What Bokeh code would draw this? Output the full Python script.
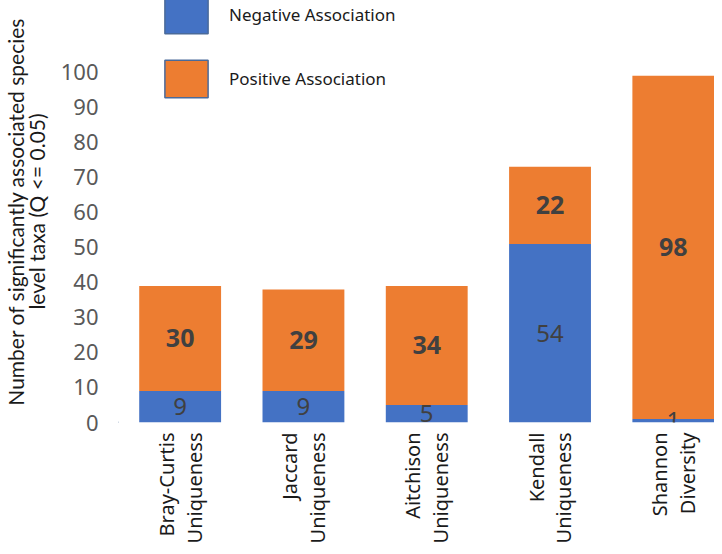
import math
from bokeh.plotting import figure
from bokeh.models import (ColumnDataSource, Range1d, FixedTicker, Legend, LegendItem, LabelSet)
from bokeh.core.properties import value
from bokeh.embed import file_html
from bokeh.resources import INLINE

# ---- data ----
categories = ["Bray-Curtis\nUniqueness", "Jaccard\nUniqueness", "Aitchison\nUniqueness",
              "Kendall\nUniqueness", "Shannon\nDiversity"]
negative = [9, 9, 5, 51, 1]
positive = [30, 29, 34, 22, 98]
negative_labels = ["9", "9", "5", "54", "1"]
positive_labels = ["30", "29", "34", "22", "98"]
y_ticks = [0, 10, 20, 30, 40, 50, 60, 70, 80, 90, 100]

BLUE = "#4472C4"
ORANGE = "#ED7D31"
FONT = "Noto Sans"
TITLE_FONT = "Lato"

xs = list(range(len(categories)))
src = ColumnDataSource(dict(
    x=xs, neg=negative, pos=positive,
    neg_mid=[n / 2 for n in negative],
    pos_mid=[n + p / 2 for n, p in zip(negative, positive)],
    neg_lab=negative_labels, pos_lab=positive_labels,
))

p = figure(width=714, height=546, output_backend="svg", toolbar_location=None,
           title=None, x_range=Range1d(-0.5, 4.334), y_range=Range1d(0, 120.5),
           min_border_left=117, min_border_right=0, min_border_top=0, min_border_bottom=122)
p.outline_line_color = None
p.xgrid.visible = False
p.ygrid.visible = False

p.vbar_stack(["neg", "pos"], x="x", width=0.664, color=[BLUE, ORANGE],
             line_color=None, source=src)

# data labels
p.add_layout(LabelSet(x="x", y="neg_mid", text="neg_lab", source=src,
                      text_align="center", text_baseline="middle",
                      text_font=value(FONT), text_font_size=value("24px"),
                      text_color="#404040"))
p.add_layout(LabelSet(x="x", y="pos_mid", text="pos_lab", source=src,
                      text_align="center", text_baseline="middle",
                      text_font=value(FONT), text_font_size=value("25px"),
                      text_font_style=value("bold"), text_color="#404040"))

# legend (boxes with border); one off-view point per renderer so the swatch is drawn
swatch = ColumnDataSource(dict(x=[-10], top=[0]))
r_neg = p.vbar(x="x", top="top", width=0.5, source=swatch, fill_color=BLUE,
               line_color="#4a6a9a", line_width=1.5)
r_pos = p.vbar(x="x", top="top", width=0.5, source=swatch, fill_color=ORANGE,
               line_color="#4a6a9a", line_width=1.5)
legend = Legend(items=[LegendItem(label="Negative Association", renderers=[r_neg]),
                       LegendItem(label="Positive Association", renderers=[r_pos])],
                location=(41, 320), orientation="vertical",
                glyph_width=54, glyph_height=47, spacing=17, label_standoff=16,
                padding=0, margin=0, border_line_color=None, background_fill_alpha=0,
                label_text_font=FONT, label_text_font_size="17px", label_text_color="#1a1a1a")
p.add_layout(legend)

# y axis
p.yaxis.ticker = FixedTicker(ticks=y_ticks)
p.yaxis.axis_line_color = None
p.yaxis.major_tick_line_color = None
p.yaxis.minor_tick_line_color = None
p.yaxis.major_tick_out = 0
p.yaxis.major_tick_in = 0
p.yaxis.major_label_standoff = 20
p.yaxis.major_label_text_font = FONT
p.yaxis.major_label_text_font_size = "22px"
p.yaxis.major_label_text_color = "#595959"
p.yaxis.axis_label = "Number of significantly associated species\nlevel taxa (Q <= 0.05)"
p.yaxis.axis_label_text_font = TITLE_FONT
p.yaxis.axis_label_text_font_size = "21px"
p.yaxis.axis_label_text_font_style = "normal"
p.yaxis.axis_label_text_color = "#1a1a1a"
p.yaxis.axis_label_text_line_height = 0.82
p.yaxis.axis_label_standoff = 9

# x axis
p.xaxis.ticker = FixedTicker(ticks=xs)
p.xaxis.major_label_overrides = {i: c for i, c in zip(xs, categories)}
p.xaxis.major_label_orientation = math.pi / 2
p.xaxis.axis_line_color = None
p.xaxis.major_tick_line_color = None
p.xaxis.minor_tick_line_color = None
p.xaxis.major_tick_out = 0
p.xaxis.major_tick_in = 0
p.xaxis.major_label_standoff = 10
p.xaxis.major_label_text_font = FONT
p.xaxis.major_label_text_font_size = "20px"
p.xaxis.major_label_text_color = "#1a1a1a"
p.xaxis.major_label_text_line_height = 1.03

open("out.html", "w").write(file_html(p, INLINE))
